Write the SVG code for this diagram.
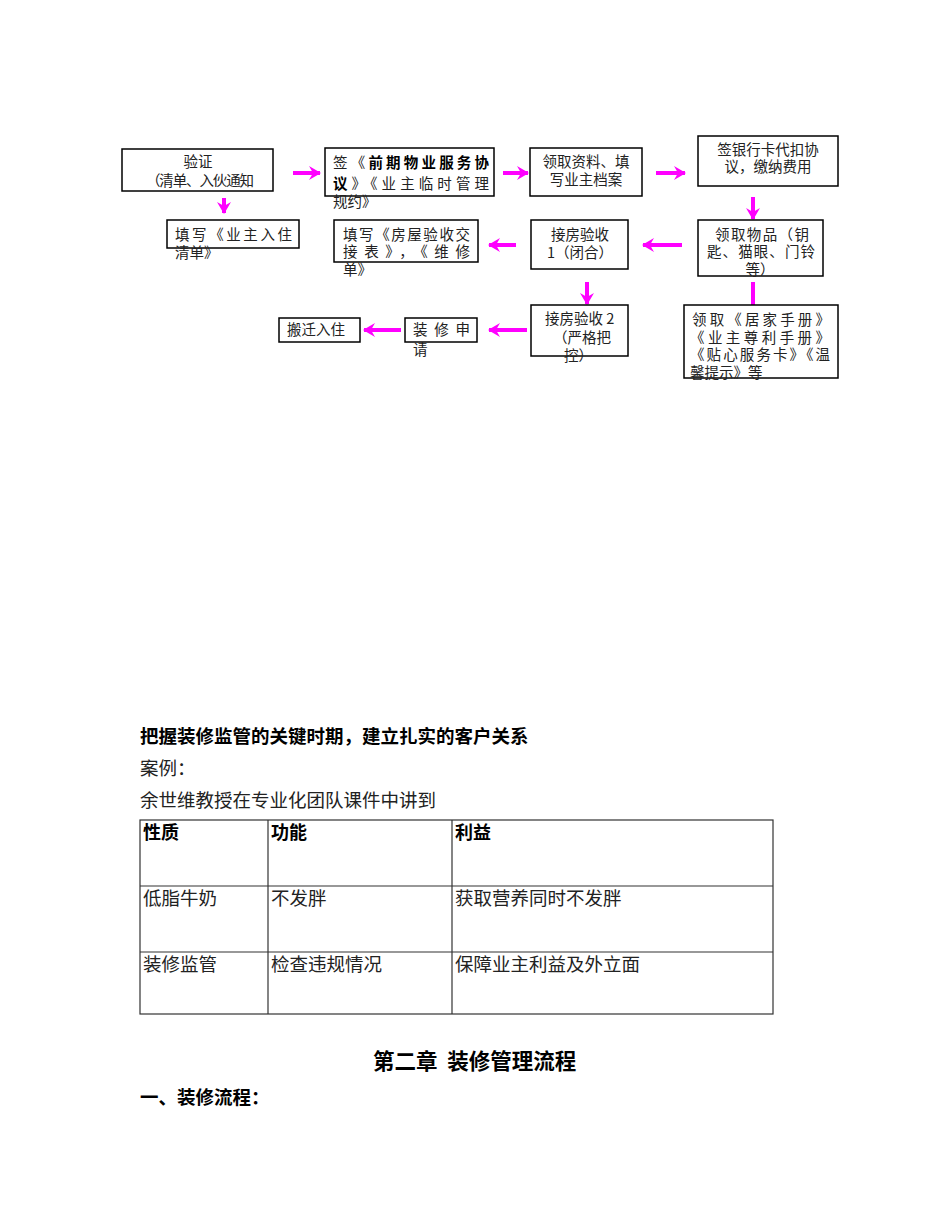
<svg xmlns="http://www.w3.org/2000/svg" width="950" height="1230" viewBox="0 0 950 1230">
<style>
.box{fill:#fff;stroke:#000;stroke-width:1.5}
.bt{font-family:"Noto Sans CJK SC","Liberation Sans",sans-serif;font-size:14.5px;fill:#222}
.arr{stroke:#ff00ff;stroke-width:4;fill:none}
.tx{font-family:"Noto Sans CJK SC","Liberation Sans",sans-serif;font-size:18.5px;fill:#222}
.bd{font-family:"Noto Sans CJK SC","Liberation Sans",sans-serif;font-weight:bold;fill:#000}
.tl{stroke:#333;stroke-width:1.2;fill:none}
</style>
<defs>
<marker id="ah" viewBox="0 0 12 14" refX="11" refY="7" markerWidth="12" markerHeight="14" markerUnits="userSpaceOnUse" orient="auto">
<path d="M0,0 L12,7 L0,14 L4,7 Z" fill="#ff00ff"/>
</marker>
</defs>
<rect width="950" height="1230" fill="#fff"/>

<g id="connectors">
<line class="arr" x1="293" y1="173" x2="320" y2="173" marker-end="url(#ah)"/>
<line class="arr" x1="503" y1="173" x2="528" y2="173" marker-end="url(#ah)"/>
<line class="arr" x1="656" y1="173" x2="685" y2="173" marker-end="url(#ah)"/>
<line class="arr" x1="753" y1="197" x2="753" y2="219" marker-end="url(#ah)"/>
<line class="arr" x1="682" y1="245" x2="643" y2="245" marker-end="url(#ah)"/>
<line class="arr" x1="516" y1="245" x2="489" y2="245" marker-end="url(#ah)"/>
<line class="arr" x1="224" y1="198" x2="224" y2="213" marker-end="url(#ah)"/>
<line class="arr" x1="587" y1="282" x2="587" y2="304" marker-end="url(#ah)"/>
<line class="arr" x1="753" y1="282" x2="753" y2="305"/>
<line class="arr" x1="527" y1="330" x2="489" y2="330" marker-end="url(#ah)"/>
<line class="arr" x1="401" y1="330" x2="364" y2="330" marker-end="url(#ah)"/>
</g>

<g id="n1">
<rect class="box" x="122" y="149" width="151" height="42"/>
<text class="bt" x="198" y="167" text-anchor="middle" font-size="13px">验证</text>
<text class="bt" x="146" y="186" font-size="13px" textLength="108">（清单、入伙通知</text>
</g>
<g id="n2">
<rect class="box" x="325" y="148" width="169" height="48"/>
<text class="bt" x="333" y="168" textLength="156"><tspan>签《</tspan><tspan font-weight="bold" fill="#000">前期物业服务协</tspan></text>
<text class="bt" x="333" y="189" textLength="156"><tspan font-weight="bold" fill="#000">议</tspan><tspan>》《业主临时管理</tspan></text>
<text class="bt" x="333" y="207">规约》</text>
</g>
<g id="n3">
<rect class="box" x="530" y="148" width="112" height="48"/>
<text class="bt" x="586" y="167" text-anchor="middle">领取资料、填</text>
<text class="bt" x="586" y="185" text-anchor="middle">写业主档案</text>
</g>
<g id="n4">
<rect class="box" x="698" y="136" width="140" height="50"/>
<text class="bt" x="768" y="155" text-anchor="middle">签银行卡代扣协</text>
<text class="bt" x="768" y="172" text-anchor="middle">议，缴纳费用</text>
</g>
<g id="n5">
<rect class="box" x="167" y="220" width="132" height="28"/>
<text class="bt" x="175" y="240" textLength="117">填写《业主入住</text>
<text class="bt" x="175" y="258">清单》</text>
</g>
<g id="n6">
<rect class="box" x="334" y="220" width="144" height="42"/>
<text class="bt" x="343" y="240" textLength="127">填写《房屋验收交</text>
<text class="bt" x="343" y="257" textLength="127">接表》，《维修</text>
<text class="bt" x="343" y="275">单》</text>
</g>
<g id="n7">
<rect class="box" x="531" y="220" width="97" height="49"/>
<text class="bt" x="580" y="240" text-anchor="middle">接房验收</text>
<text class="bt" x="580" y="258" text-anchor="middle">1（闭合）</text>
</g>
<g id="n8">
<rect class="box" x="698" y="220" width="125" height="56"/>
<text class="bt" x="715" y="240" textLength="94">领取物品（钥</text>
<text class="bt" x="707" y="257" textLength="108">匙、猫眼、门铃</text>
<text class="bt" x="760" y="275" text-anchor="middle">等）</text>
</g>
<g id="n9">
<rect class="box" x="531" y="305" width="97" height="51"/>
<text class="bt" x="545" y="324">接房验收 2</text>
<text class="bt" x="553" y="343">（严格把</text>
<text class="bt" x="564" y="361">控）</text>
</g>
<g id="n10">
<rect class="box" x="405" y="318" width="72" height="24"/>
<text class="bt" x="413" y="335" textLength="57">装修申</text>
<text class="bt" x="413" y="355">请</text>
</g>
<g id="n11">
<rect class="box" x="279" y="318" width="81" height="24"/>
<text class="bt" x="287" y="335">搬迁入住</text>
</g>
<g id="n12">
<rect class="box" x="684" y="305" width="154" height="73"/>
<text class="bt" x="692" y="325" textLength="138">领取《居家手册》</text>
<text class="bt" x="690" y="343" textLength="140">《业主尊利手册》</text>
<text class="bt" x="690" y="360" textLength="140">《贴心服务卡》《温</text>
<text class="bt" x="690" y="378">馨提示》等</text>
</g>

<g id="body">
<text class="bd" x="140" y="743" font-size="18.5px">把握装修监管的关键时期，建立扎实的客户关系</text>
<text class="tx" x="140" y="775">案例：</text>
<text class="tx" x="140" y="807">余世维教授在专业化团队课件中讲到</text>
</g>

<g id="table">
<rect class="tl" x="140" y="820" width="633" height="194"/>
<line class="tl" x1="140" y1="886" x2="773" y2="886"/>
<line class="tl" x1="140" y1="952" x2="773" y2="952"/>
<line class="tl" x1="268" y1="820" x2="268" y2="1014"/>
<line class="tl" x1="452" y1="820" x2="452" y2="1014"/>
<text class="bd" x="143" y="839" font-size="18px">性质</text>
<text class="bd" x="271" y="839" font-size="18px">功能</text>
<text class="bd" x="455" y="839" font-size="18px">利益</text>
<text class="tx" x="143" y="905">低脂牛奶</text>
<text class="tx" x="271" y="905">不发胖</text>
<text class="tx" x="455" y="905">获取营养同时不发胖</text>
<text class="tx" x="143" y="971">装修监管</text>
<text class="tx" x="271" y="971">检查违规情况</text>
<text class="tx" x="455" y="971">保障业主利益及外立面</text>
</g>

<g id="footer">
<text class="bd" x="373" y="1069" font-size="21.5px" xml:space="preserve">第二章  装修管理流程</text>
<text class="bd" x="140" y="1104" font-size="18.5px">一、装修流程：</text>
</g>
</svg>
